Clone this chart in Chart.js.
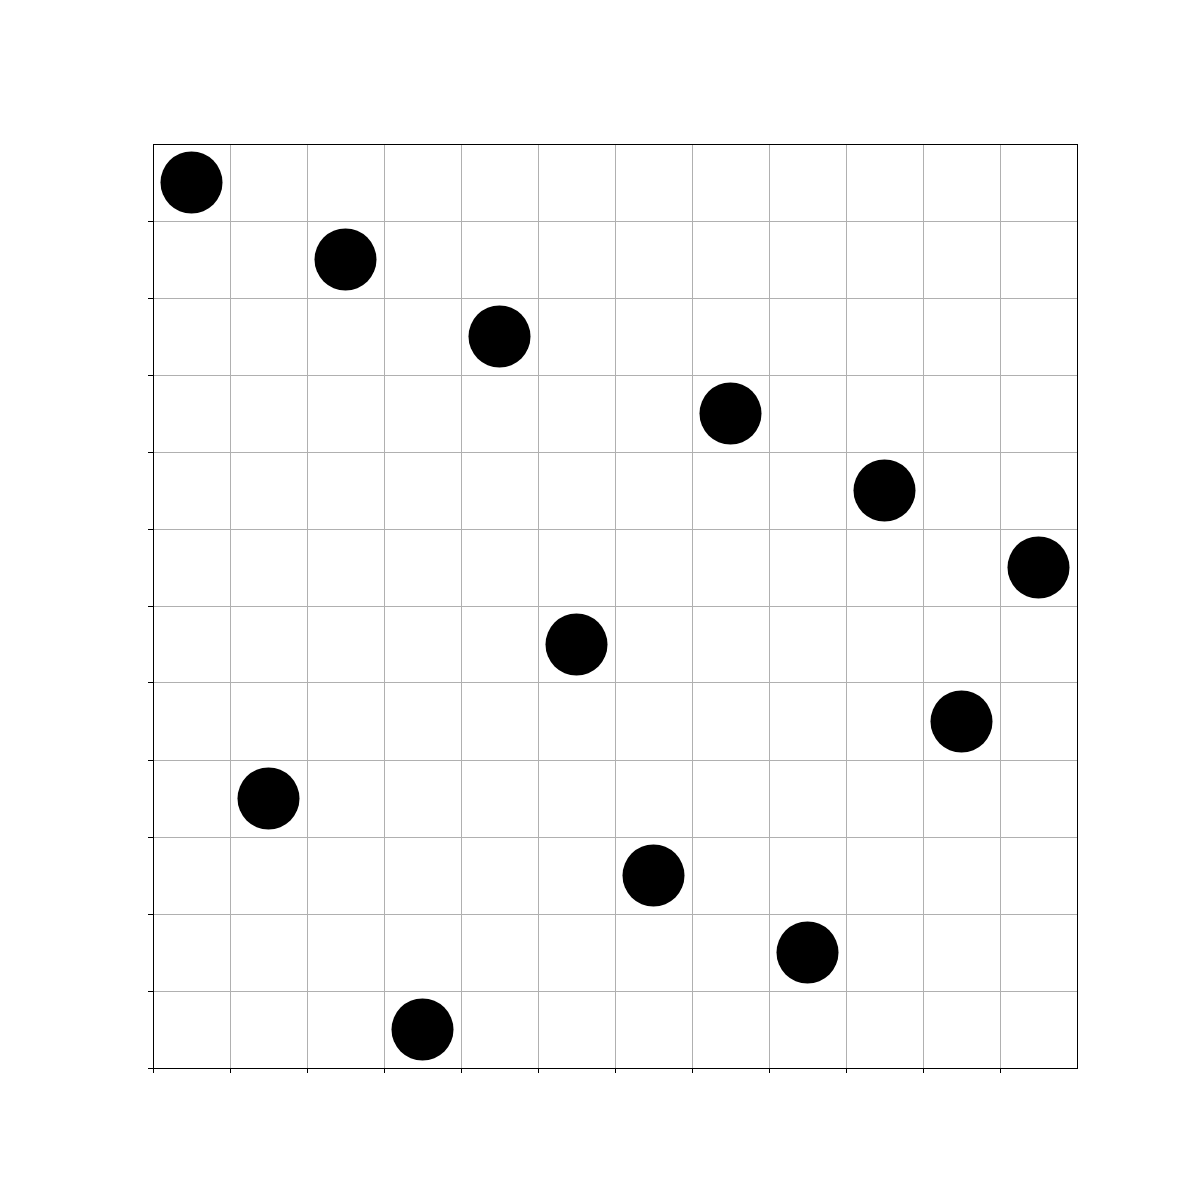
<!DOCTYPE html>
<html>
<head>
<meta charset="utf-8">
<script src="https://cdn.jsdelivr.net/npm/chart.js@4"></script>
<style>
    body { margin: 0; background: #fff; }
</style>
</head>
<body>
<canvas id="scatterChart" width="1200" height="1200"></canvas>
<script>
// cell centres, one point per column
var xValues = [0.5, 1.5, 2.5, 3.5, 4.5, 5.5, 6.5, 7.5, 8.5, 9.5, 10.5, 11.5];
var yValues = [11.5, 3.5, 10.5, 0.5, 9.5, 5.5, 2.5, 8.5, 1.5, 7.5, 4.5, 6.5];
var axisMin = 0;
var axisMax = 12;

const points = [];
for(let i = 0; i < xValues.length; i++) {
    points.push({
        "x": xValues[i],
        "y": yValues[i]
    });
}

// frame round the whole plot area
const frame = {
    id: 'frame',
    afterDraw(chart) {
        const a = chart.chartArea;
        const ctx = chart.ctx;
        ctx.save();
        ctx.strokeStyle = '#000';
        ctx.lineWidth = 1;
        ctx.strokeRect(Math.round(a.left) + 0.5, Math.round(a.top) + 0.5, Math.round(a.right - a.left), Math.round(a.bottom - a.top));
        ctx.restore();
    }
};

const axisOptions = function(isY) {
    return {
        type: 'linear',
        min: axisMin,
        max: axisMax,
        ticks: {
            stepSize: 1,
            display: false
        },
        grid: {
            color: '#b0b0b0',
            // no tick mark at the far end of the axis
            tickColor: function(c) {
                return c.tick && c.tick.value === axisMax ? 'rgba(0,0,0,0)' : '#000';
            },
            tickLength: 5,
            lineWidth: 1
        },
        border: {
            color: '#000',
            width: 1
        },
        afterFit: function(scale) {
            if(isY) {
                scale.width = 53;
            } else {
                scale.height = 32;
            }
        }
    };
};

new Chart(document.getElementById('scatterChart'), {
    type: 'scatter',
    data: {
        datasets: [{
            data: points,
            backgroundColor: '#000',
            borderColor: '#000',
            pointRadius: 31,
            pointHoverRadius: 31,
            borderWidth: 0
        }]
    },
    options: {
        responsive: false,
        animation: false,
        events: [],
        layout: {
            padding: { left: 100, right: 123, top: 144, bottom: 100 }
        },
        plugins: {
            legend: { display: false },
            tooltip: { enabled: false }
        },
        scales: {
            x: axisOptions(false),
            y: axisOptions(true)
        }
    },
    plugins: [frame]
});
</script>
</body>
</html>
